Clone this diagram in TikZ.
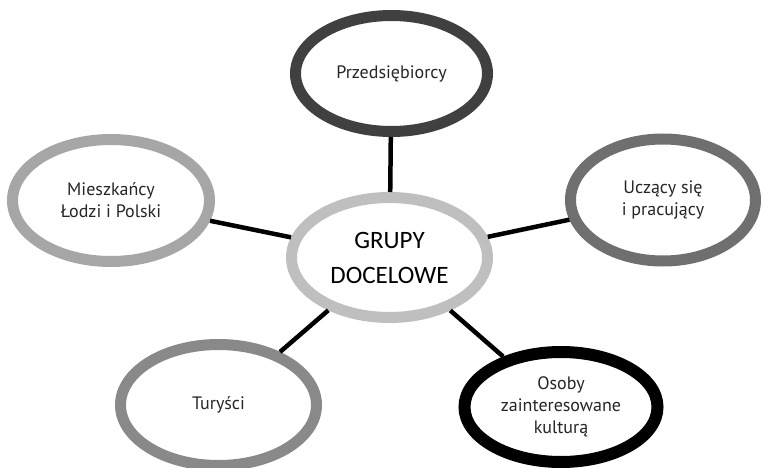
\documentclass[tikz,border=0pt]{standalone}
\usepackage{fontspec}
\setmainfont{PT Sans}
\newfontfamily\centerfont{Carlito}
\usepackage{tikz}
\usetikzlibrary{shapes.geometric}
\definecolor{ringcenter}{HTML}{BFBFBF}
\definecolor{ringdark}{HTML}{404040}
\definecolor{ringlight}{HTML}{A6A6A6}
\definecolor{ringmid}{HTML}{6F6F6F}
\definecolor{ringsoft}{HTML}{898989}
\tikzstyle{group} = [draw, ellipse, line width=11pt, fill=white, text=black!85, font=\fontsize{18}{22}\selectfont, text centered, align=center, inner sep=0pt]
\tikzstyle{core} = [draw=ringcenter, ellipse, line width=11pt, fill=white, font=\centerfont\fontsize{25}{35}\selectfont, text centered, align=center, inner sep=0pt, minimum width=196pt, minimum height=120pt]
\tikzstyle{link} = [line width=4.5pt, black]

\begin{document}
\begin{tikzpicture}[x=1pt, y=1pt]
    \useasboundingbox (0,0) rectangle (763,467);
    \draw (389.5,209.5) node[core] (G) {GRUPY \\ DOCELOWE};
    \draw (391.5,393.5) node[group, draw=ringdark, minimum width=192pt, minimum height=116pt] (A) {Przedsiębiorcy};
    \draw (111,266.5)   node[group, draw=ringlight, minimum width=197pt, minimum height=122pt] (B) {Mieszkańcy \\ Łodzi i Polski};
    \draw (663,267)     node[group, draw=ringmid, minimum width=185pt, minimum height=122pt] (C) {Uczący się \\ i pracujący};
    \draw (218.5,62)    node[group, draw=ringsoft, minimum width=196pt, minimum height=121pt] (D) {Turyści};
    \draw (561,60)      node[group, draw=black, line width=12pt, minimum width=193pt, minimum height=110pt] (E) {Osoby \\ zainteresowane \\ kulturą};
    \draw[link] (G) -- (A);
    \draw[link] (G) -- (B);
    \draw[link] (G) -- (C);
    \draw[link] (G) -- (D);
    \draw[link] (G) -- (E);
\end{tikzpicture}
\end{document}
